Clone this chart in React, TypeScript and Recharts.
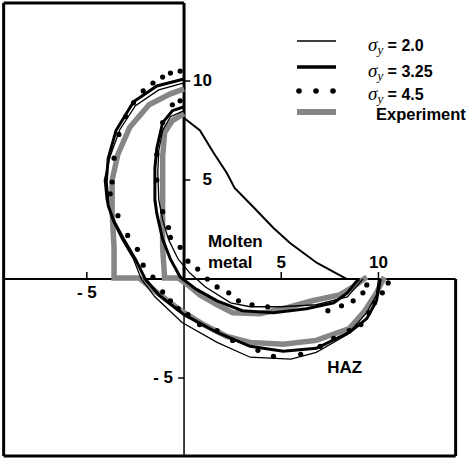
import { ScatterChart, Scatter, XAxis, YAxis, ReferenceLine } from 'recharts'

// contours, [x, y] in plot units
const outerSigma20 = [
  [0, 9.9], [-1.3, 9.55], [-2.5, 8.75], [-3.3, 7.55], [-3.8, 6.2], [-4.1, 5.0], [-4.0, 4.0],
  [-3.7, 3.0], [-3.2, 2.0], [-2.6, 1.0], [-2.2, 0], [-1.5, -0.9], [-0.1, -2.2], [1.7, -3.2],
  [3.4, -3.95], [5.5, -4.05], [6.8, -3.7], [8.4, -2.8], [9.4, -1.7], [9.9, -0.8], [10.0, 0],
]
const innerSigma20 = [
  [0, 8.5], [-0.7, 8.2], [-1.1, 7.5], [-1.3, 6.5], [-1.35, 5.4], [-1.3, 4.0], [-1.1, 3.0],
  [-0.8, 2.0], [-0.3, 1.0], [0.3, 0.3], [1.1, -0.4], [2.4, -1.2], [3.4, -1.4], [5.0, -1.4],
  [6.8, -1.3], [8.4, -0.9], [9.2, 0],
]
const outerSigma325 = [
  [0, 10.1], [-1.4, 9.75], [-2.6, 8.95], [-3.5, 7.5], [-3.9, 6.1], [-4.0, 4.9], [-3.9, 3.7],
  [-3.6, 2.9], [-3.1, 2.0], [-2.5, 1.0], [-2.0, 0], [-1.3, -0.8], [0, -1.8], [1.7, -2.7],
  [3.4, -3.4], [5.1, -3.65], [6.8, -3.5], [8.5, -2.7], [9.4, -2.0], [9.9, -1.1], [10.1, 0],
]
const innerSigma325 = [
  [0, 8.7], [-0.6, 8.5], [-1.1, 7.9], [-1.4, 6.6], [-1.5, 5.6], [-1.5, 4.0], [-1.4, 3.3],
  [-1.1, 2.0], [-0.7, 1.0], [-0.2, 0.1], [0.6, -0.5], [1.7, -1.1], [3.0, -1.6], [4.6, -1.7],
  [6.3, -1.5], [7.7, -1.2], [8.4, -0.7], [8.8, -0.2], [9.0, 0],
]
const poolSurface = [
  [0, 8.13], [0.82, 7.5], [1.5, 6.4], [2.2, 5.35], [2.6, 4.6], [3.6, 3.6], [4.6, 2.58],
  [5.45, 1.82], [6.84, 0.81], [8.38, 0],
]
const outerSigma45 = [
  [-0.2, 10.5], [-0.7, 10.4], [-1.1, 10.2], [-1.6, 9.9], [-2.1, 9.5], [-2.6, 8.9], [-3.0, 8.2],
  [-3.35, 7.3], [-3.6, 6.1], [-3.7, 4.9], [-3.8, 4.3], [-3.4, 3.2], [-2.9, 2.2], [-2.4, 1.5],
  [-2.1, 0.7], [-1.6, 0.1], [-1.1, -0.65], [-0.7, -1.1], [-0.3, -1.5], [0.2, -1.8], [0.8, -2.3],
  [1.7, -2.6], [2.5, -3.1], [3.8, -3.6], [4.6, -3.9], [6.0, -3.8], [7.0, -3.4], [7.7, -3.0],
  [8.5, -2.6], [9.1, -2.3], [9.5, -1.7], [9.8, -1.2], [10.2, -0.7], [10.5, -0.2],
]
const innerSigma45 = [
  [-0.2, 9.0], [-0.6, 8.8], [-1.1, 7.9], [-1.4, 6.3], [-1.4, 5.0], [-1.1, 3.4], [-0.8, 2.6],
  [-0.7, 2.1], [-0.2, 1.6], [0.2, 0.9], [0.7, 0.5], [1.2, 0], [1.7, -0.4], [2.3, -0.7],
  [2.8, -1.1], [3.5, -1.3], [4.3, -1.4], [7.4, -1.6], [8.1, -1.35], [8.7, -1.1], [9.2, -0.7],
  [9.4, -0.3],
]
const outerExperiment = [
  [0, 9.6], [-0.7, 9.35], [-1.8, 8.8], [-2.8, 7.65], [-3.4, 6.3], [-3.7, 5.0], [-3.7, 3.4],
  [-3.6, 1.6], [-3.6, 0.05], [-2.3, 0.05], [-1.5, -0.6], [-0.3, -1.5], [1.0, -2.3], [2.2, -2.9],
  [3.4, -3.2], [5.1, -3.3], [6.8, -3.1], [8.5, -2.5], [9.3, -1.6], [9.9, -0.7], [10.3, 0.1],
]
const innerExperiment = [
  [0, 8.35], [-0.6, 8.0], [-1.0, 7.4], [-1.1, 6.2], [-1.1, 5.0], [-1.1, 3.4], [-1.1, 1.6],
  [-1.0, 0.05], [-0.3, 0.05], [0.2, -0.3], [0.8, -0.8], [1.7, -1.3], [2.5, -1.7], [3.9, -1.75],
  [5.3, -1.45], [6.6, -1.1], [8.0, -0.8], [8.7, -0.4], [9.4, 0.1],
]

const xTicks = [-5, 5, 10]
const yTicks = [10, 5, -5]
const notes = [
  { text: 'Molten', x: 1.23, y: 1.62 },
  { text: 'metal', x: 1.23, y: 0.56 },
  { text: 'HAZ', x: 7.36, y: -4.75 },
]

const GRAY = '#868686'
const FONT = '"Liberation Sans", Arial, sans-serif'

const pts = (arr: number[][]) => arr.map(([x, y]) => ({ x, y }))
const noDot = () => <g />
const fmt = (v: number) => (v < 0 ? `- ${Math.abs(v)}` : String(v))

const xTickLabels = xTicks.map((v) => ({ x: v, y: 0, text: fmt(v), dx: 0, dy: v < 0 ? 19 : -11, anchor: 'middle' }))
const yTickLabels = yTicks.map((v) => ({
  x: 0, y: v, text: fmt(v), dx: v < 0 ? -11 : 28, dy: 5, anchor: 'end',
}))
const noteLabels = notes.map((n) => ({ ...n, dx: 0, dy: 0, anchor: 'start' }))

const TextShape = (p: any) => (
  <text
    x={p.cx + p.payload.dx}
    y={p.cy + p.payload.dy}
    textAnchor={p.payload.anchor}
    fontFamily={FONT}
    fontWeight="bold"
    fontSize={17}
    fill="#000"
  >
    {p.payload.text}
  </text>
)

const Dot = (p: any) => <circle cx={p.cx} cy={p.cy} r={2.6} fill="#000" />

// frame corners in plot units
const L = -9.28
const R = 13.97
const T = 13.94
const B = -8.94

function Legend() {
  const rows = [
    { base: 51, label: '2.0' },
    { base: 77, label: '3.25' },
    { base: 100, label: '4.5' },
  ]
  return (
    <svg width={474} height={130} style={{ position: 'absolute', left: 0, top: 0, pointerEvents: 'none' }}>
      <line x1={297} x2={336} y1={41} y2={41} stroke="#000" strokeWidth={1.3} />
      <line x1={297} x2={336} y1={67} y2={67} stroke="#000" strokeWidth={3.4} />
      {[299, 316, 333].map((cx) => (
        <circle key={cx} cx={cx} cy={91} r={2.8} fill="#000" />
      ))}
      <line x1={297} x2={336} y1={112} y2={112} stroke={GRAY} strokeWidth={6} />
      {rows.map((r) => (
        <text key={r.label} x={368} y={r.base} fontFamily={FONT} fontWeight="bold" fontSize={16}>
          <tspan fontFamily='"Liberation Serif", serif' fontStyle="italic" fontWeight="normal" fontSize={19}>σ</tspan>
          <tspan fontFamily='"Liberation Serif", serif' fontStyle="italic" fontWeight="normal" fontSize={13} dy={3}>y</tspan>
          <tspan dy={-3}>{` = ${r.label}`}</tspan>
        </text>
      ))}
      <text x={376} y={120} fontFamily={FONT} fontWeight="bold" fontSize={16.5}>Experiment</text>
    </svg>
  )
}

export default function App() {
  const frame = { stroke: '#000', ifOverflow: 'visible' as const }
  return (
    <div style={{ position: 'relative', width: 474, height: 460, background: '#fff' }}>
      <style>{'body{margin:0}'}</style>
      <ScatterChart width={474} height={460} margin={{ top: 0.8, right: 13.9, bottom: 0.8, left: 1.3 }}>
        <XAxis type="number" dataKey="x" domain={[-9.4, 14.2]} allowDataOverflow hide />
        <YAxis type="number" dataKey="y" domain={[-9.1, 14.05]} allowDataOverflow hide />

        <ReferenceLine {...frame} strokeWidth={3} segment={[{ x: L, y: T }, { x: 0, y: T }]} />
        <ReferenceLine {...frame} strokeWidth={3} segment={[{ x: L, y: T }, { x: L, y: B }]} />
        <ReferenceLine {...frame} strokeWidth={3} segment={[{ x: 0, y: T }, { x: 0, y: 0 }]} />
        <ReferenceLine {...frame} strokeWidth={1.5} segment={[{ x: 0, y: 0 }, { x: 0, y: B }]} />
        <ReferenceLine {...frame} strokeWidth={2} segment={[{ x: L, y: 0 }, { x: R, y: 0 }]} />
        <ReferenceLine {...frame} strokeWidth={3} segment={[{ x: R, y: 0 }, { x: R, y: B }]} />
        <ReferenceLine {...frame} strokeWidth={3} segment={[{ x: L, y: B }, { x: R, y: B }]} />
        {xTicks.map((v) => (
          <ReferenceLine key={`xt${v}`} {...frame} strokeWidth={1.5} segment={[{ x: v, y: 0 }, { x: v, y: 0.35 }]} />
        ))}
        {yTicks.map((v) => (
          <ReferenceLine
            key={`yt${v}`}
            {...frame}
            strokeWidth={1.5}
            segment={v < 0 ? [{ x: -0.3, y: v }, { x: 0, y: v }] : [{ x: 0, y: v }, { x: 0.32, y: v }]}
          />
        ))}

        <Scatter data={pts(outerExperiment)} line={{ stroke: GRAY, strokeWidth: 5.5 }} shape={noDot} isAnimationActive={false} />
        <Scatter data={pts(innerExperiment)} line={{ stroke: GRAY, strokeWidth: 5.5 }} shape={noDot} isAnimationActive={false} />
        <Scatter data={pts(outerSigma20)} line={{ stroke: '#000', strokeWidth: 1.3 }} shape={noDot} isAnimationActive={false} />
        <Scatter data={pts(innerSigma20)} line={{ stroke: '#000', strokeWidth: 1.3 }} shape={noDot} isAnimationActive={false} />
        <Scatter data={pts(outerSigma325)} line={{ stroke: '#000', strokeWidth: 3 }} shape={noDot} isAnimationActive={false} />
        <Scatter data={pts(innerSigma325)} line={{ stroke: '#000', strokeWidth: 3 }} shape={noDot} isAnimationActive={false} />
        <Scatter data={pts(poolSurface)} line={{ stroke: '#000', strokeWidth: 2 }} shape={noDot} isAnimationActive={false} />
        <Scatter data={pts(outerSigma45)} shape={Dot} isAnimationActive={false} />
        <Scatter data={pts(innerSigma45)} shape={Dot} isAnimationActive={false} />

        <Scatter data={[...xTickLabels, ...yTickLabels, ...noteLabels]} shape={TextShape} isAnimationActive={false} />
      </ScatterChart>
      <Legend />
    </div>
  )
}
